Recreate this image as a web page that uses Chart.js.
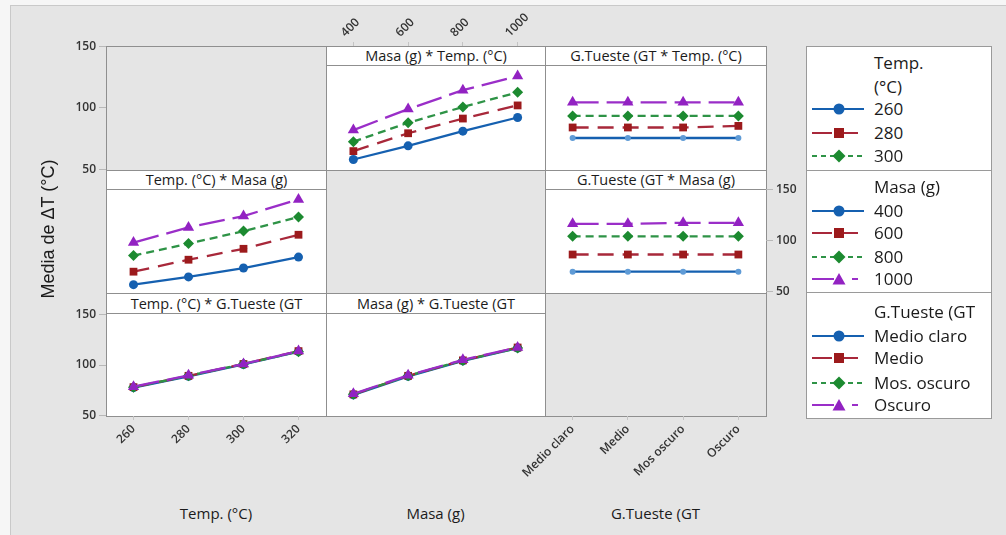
<!DOCTYPE html>
<html><head><meta charset="utf-8">
<script src="https://cdn.jsdelivr.net/npm/chart.js@4.4.1/dist/chart.umd.min.js"></script>
<style>
html,body{margin:0;padding:0}
body{width:1006px;height:535px;position:relative;overflow:hidden;background:#f6f6f6;font-family:"Open Sans","Noto Sans",sans-serif;color:#1b1b1b}
#bg{position:absolute;left:10px;top:5px;right:0;bottom:0;background:#e5e5e5;border-left:1px solid #c9c9c9;border-top:1px solid #c9c9c9}
.pnl{position:absolute;box-sizing:border-box;border:1px solid #8f8f8f;z-index:1}
.strip{position:absolute;box-sizing:border-box;border:1px solid #8f8f8f;background:#fff;z-index:2;text-align:center;font-size:14.5px;white-space:nowrap}
.leg{position:absolute;box-sizing:border-box;border:1px solid #9a9a9a;background:#fff;z-index:1}
.lt{position:absolute;font-size:17px;line-height:20px;white-space:nowrap;z-index:5}
.axt{position:absolute;font-size:15px;line-height:20px;text-align:center;white-space:nowrap;z-index:5;font-weight:500}
canvas{position:absolute}
</style></head><body>
<div id="bg"></div>
<script>
// ---- categories / tick labels ----
const tempLevels = ['260', '280', '300', '320'];
const masaLevels = ['400', '600', '800', '1000'];
const gtLevels = ['Medio claro', 'Medio', 'Mos oscuro', 'Oscuro'];
const gtLegendLabels = ['Medio claro', 'Medio', 'Mos. oscuro', 'Oscuro'];
const yTicks = [50, 100, 150];

// ---- "Masa (g) * Temp. (°C)" : x = Masa, lines = Temp ----
const mt_260 = [60, 73, 87, 100];
const mt_280 = [68, 85, 99, 111.5];
const mt_300 = [77, 95, 110, 124];
const mt_320 = [88, 108, 126, 139.5];
// ---- "G.Tueste (GT * Temp. (°C)" : x = GT, lines = Temp ----
const gt_260 = [80.5, 80.5, 80.5, 80.5];
const gt_280 = [90.5, 90.5, 90.5, 92];
const gt_300 = [101.5, 101.5, 101.5, 101.5];
const gt_320 = [114.5, 114.5, 114.5, 114.5];
// ---- "Temp. (°C) * Masa (g)" : x = Temp, lines = Masa ----
const tm_400 = [58, 65.5, 74, 84.5];
const tm_600 = [70.5, 82, 92.5, 106];
const tm_800 = [86, 97.5, 109.5, 123];
const tm_1000 = [98.5, 113, 124, 140];
// ---- "G.Tueste (GT * Masa (g)" : x = GT, lines = Masa ----
const gm_400 = [70.5, 70.5, 70.5, 70.5];
const gm_600 = [87, 87, 87, 87];
const gm_800 = [104.5, 104.5, 104.5, 104.5];
const gm_1000 = [116.5, 116.5, 117.5, 117.5];
// ---- "Temp. (°C) * G.Tueste (GT" : x = Temp, lines = GT ----
const tg_medioClaro = [77.5, 88.5, 100, 112.5];
const tg_medio = [78, 89, 100.5, 113];
const tg_mosOscuro = [78, 89, 100.5, 112.5];
const tg_oscuro = [78.5, 89.5, 100.5, 113];
// ---- "Masa (g) * G.Tueste (GT" : x = Masa, lines = GT ----
const mg_medioClaro = [70.5, 88.5, 103.5, 116];
const mg_medio = [71, 89, 104, 116.5];
const mg_mosOscuro = [71, 89, 104, 116];
const mg_oscuro = [71.5, 89.5, 104.5, 116.5];

// ---- styles ----
const STY = [
  {line: '#1560b0', fill: '#1560b0', dash: [], ps: 'circle', r: 4.5},
  {line: '#a8283a', fill: '#9c1a1c', dash: [16, 9], ps: 'rect', r: 5.5},
  {line: '#2e9346', fill: '#1c8a30', dash: [8, 5], ps: 'rectRot', r: 5.5},
  {line: '#9a2ec8', fill: '#9222c2', dash: [26, 8], ps: 'triangle', r: 6.5}
];
const FONT = '"Open Sans","Noto Sans",sans-serif';

const colL = [106, 326, 545], colR = [326, 545, 766];
const rowT = [46, 170, 293], rowB = [170, 293, 416], stripB = [65, 189, 313];

function el(tag, cls, css, html) {
  const e = document.createElement(tag);
  if (cls) e.className = cls;
  e.style.cssText = css;
  if (html !== undefined) e.textContent = html;
  document.body.appendChild(e);
  return e;
}
function mkCanvas(x, y, w, h, z) {
  const c = document.createElement('canvas');
  c.width = w; c.height = h;
  c.style.cssText = `left:${x}px;top:${y}px;width:${w}px;height:${h}px;z-index:${z}`;
  document.body.appendChild(c);
  return c.getContext('2d');
}
const baseOpts = () => ({
  responsive: false, animation: false, devicePixelRatio: 1,
  plugins: {legend: {display: false}, tooltip: {enabled: false}, title: {display: false}}
});

function panelBox(r, c, title) {
  const x = colL[c], y = rowT[r], w = colR[c] - colL[c] + 1, h = rowB[r] - rowT[r] + 1;
  el('div', 'pnl', `left:${x}px;top:${y}px;width:${w}px;height:${h}px;background:${title ? '#fff' : 'transparent'}`);
  if (title) {
    const sh = stripB[r] - rowT[r] + 1;
    el('div', 'strip', `left:${x}px;top:${y}px;width:${w}px;height:${sh}px;line-height:${sh - 2}px`, title);
  }
}

function panelChart(r, c, labels, series, blueOverride) {
  const x = colL[c], y = stripB[r], w = colR[c] - colL[c], h = rowB[r] - stripB[r];
  const ctx = mkCanvas(x, y, w, h, 3);
  const n = series.length;
  const o = baseOpts();
  o.layout = {autoPadding: false, padding: 0};
  o.scales = {
    x: {type: 'category', offset: true, display: false},
    y: {type: 'linear', min: 50, max: 150, display: false}
  };
  new Chart(ctx, {
    type: 'line',
    data: {
      labels: labels,
      datasets: series.map((d, i) => {
        const s = STY[i];
        let pc = s.fill, pr = s.r;
        if (i === 0 && blueOverride) { pc = '#5f9bd6'; pr = 3; }
        return {
          data: d, order: n - 1 - i, borderColor: s.line, backgroundColor: pc,
          pointBackgroundColor: pc, pointBorderColor: pc, pointBorderWidth: 0,
          borderWidth: 2.3, borderDash: s.dash, pointStyle: s.ps, pointRadius: pr,
          tension: 0, fill: false, clip: false
        };
      })
    },
    options: o
  });
}

function yAxis(cx, cy, cw, ch, pad, pos, axisW) {
  const ctx = mkCanvas(cx, cy, cw, ch, 4);
  const o = baseOpts();
  o.layout = {autoPadding: false, padding: pad};
  o.scales = {
    x: {display: false},
    y: {
      position: pos, min: 50, max: 150,
      afterBuildTicks: s => { s.ticks = yTicks.map(v => ({value: v})); },
      afterFit: s => { s.width = axisW; },
      grid: {display: true, drawOnChartArea: false, drawTicks: true, tickLength: 7, color: '#b8b8b8'},
      border: {display: false},
      ticks: {font: {family: FONT, size: 12, weight: '600'}, color: '#333', padding: 3}
    }
  };
  new Chart(ctx, {type: 'line', data: {labels: ['a'], datasets: []}, options: o});
}

function xAxis(cx, cy, cw, ch, pad, pos, axisH, labels) {
  const ctx = mkCanvas(cx, cy, cw, ch, 4);
  const o = baseOpts();
  o.layout = {autoPadding: false, padding: pad};
  o.scales = {
    y: {display: false, min: 50, max: 150},
    x: {
      type: 'category', position: pos, offset: true,
      afterFit: s => { s.height = axisH; },
      grid: {display: true, drawOnChartArea: false, drawTicks: true, tickLength: 4, color: '#c4c4c4'},
      border: {display: false},
      ticks: {font: {family: FONT, size: 12, weight: '600'}, color: '#333', padding: 2, minRotation: 45, maxRotation: 45, autoSkip: false}
    }
  };
  new Chart(ctx, {type: 'line', data: {labels: labels, datasets: []}, options: o});
}

// ---- panel frames ----
panelBox(0, 0, null);
panelBox(0, 1, 'Masa (g) * Temp. (°C)');
panelBox(0, 2, 'G.Tueste (GT * Temp. (°C)');
panelBox(1, 0, 'Temp. (°C) * Masa (g)');
panelBox(1, 1, null);
panelBox(1, 2, 'G.Tueste (GT * Masa (g)');
panelBox(2, 0, 'Temp. (°C) * G.Tueste (GT');
panelBox(2, 1, 'Masa (g) * G.Tueste (GT');
panelBox(2, 2, null);

// ---- data panels ----
panelChart(0, 1, masaLevels, [mt_260, mt_280, mt_300, mt_320]);
panelChart(0, 2, gtLevels, [gt_260, gt_280, gt_300, gt_320], true);
panelChart(1, 0, tempLevels, [tm_400, tm_600, tm_800, tm_1000]);
panelChart(1, 2, gtLevels, [gm_400, gm_600, gm_800, gm_1000], true);
panelChart(2, 0, tempLevels, [tg_medioClaro, tg_medio, tg_mosOscuro, tg_oscuro]);
panelChart(2, 1, masaLevels, [mg_medioClaro, mg_medio, mg_mosOscuro, mg_oscuro]);

// ---- axes ----
yAxis(36, 36, 80, 144, {top: 10, bottom: 10, left: 0, right: 0}, 'left', 70);      // row 1 left
yAxis(36, 304, 80, 122, {top: 10, bottom: 10, left: 0, right: 0}, 'left', 70);     // row 3 left
yAxis(756, 179, 50, 123, {top: 10, bottom: 10, left: 0, right: 0}, 'right', 40);   // row 2 right
xAxis(300, 0, 270, 60, {top: 0, bottom: 0, left: 26, right: 25}, 'top', 46, masaLevels);      // top masa
xAxis(26, 396, 310, 70, {top: 0, bottom: 0, left: 80, right: 10}, 'bottom', 50, tempLevels);  // bottom temp
xAxis(465, 396, 311, 100, {top: 0, bottom: 0, left: 80, right: 10}, 'bottom', 80, gtLevels);  // bottom GT

// ---- axis titles ----
el('div', 'axt', `left:${colL[0]}px;top:503px;width:${colR[0] - colL[0]}px`, 'Temp. (°C)');
el('div', 'axt', `left:${colL[1]}px;top:503px;width:${colR[1] - colL[1]}px`, 'Masa (g)');
el('div', 'axt', `left:${colL[2]}px;top:503px;width:${colR[2] - colL[2]}px`, 'G.Tueste (GT');
el('div', 'axt', `left:-52px;top:218px;width:200px;font-size:18px;line-height:22px;font-family:'Liberation Sans',Arial,sans-serif;font-weight:400;transform:rotate(-90deg)`, 'Media de ΔT (°C)');

// ---- legends ----
const legTop = [46, 170, 292], legBot = [170, 292, 418];
for (let i = 0; i < 3; i++) {
  el('div', 'leg', `left:806px;top:${legTop[i]}px;width:186px;height:${legBot[i] - legTop[i] + 1}px`);
}
const SVGNS = 'http://www.w3.org/2000/svg';
const legDash = ['', '20 6 20 40', '5 4', '22 18 6 40'];
function legSym(i, cy) {
  const s = STY[i];
  const svg = document.createElementNS(SVGNS, 'svg');
  svg.setAttribute('width', '58'); svg.setAttribute('height', '16');
  svg.style.cssText = `position:absolute;left:810px;top:${cy - 8}px;z-index:5`;
  const ln = document.createElementNS(SVGNS, 'line');
  ln.setAttribute('x1', '2'); ln.setAttribute('x2', '54'); ln.setAttribute('y1', '8'); ln.setAttribute('y2', '8');
  ln.setAttribute('stroke', s.line); ln.setAttribute('stroke-width', '2');
  if (legDash[i]) ln.setAttribute('stroke-dasharray', legDash[i]);
  svg.appendChild(ln);
  let m;
  if (s.ps === 'circle') {
    m = document.createElementNS(SVGNS, 'circle');
    m.setAttribute('cx', '29'); m.setAttribute('cy', '8'); m.setAttribute('r', '5.5');
  } else if (s.ps === 'rect') {
    m = document.createElementNS(SVGNS, 'rect');
    m.setAttribute('x', '24'); m.setAttribute('y', '3'); m.setAttribute('width', '10'); m.setAttribute('height', '10');
  } else if (s.ps === 'rectRot') {
    m = document.createElementNS(SVGNS, 'polygon');
    m.setAttribute('points', '29,1.5 35.5,8 29,14.5 22.5,8');
  } else {
    m = document.createElementNS(SVGNS, 'polygon');
    m.setAttribute('points', '29,2 35.5,13.5 22.5,13.5');
  }
  m.setAttribute('fill', s.fill);
  svg.appendChild(m);
  document.body.appendChild(svg);
}
function legText(txt, cy) { el('div', 'lt', `left:874px;top:${cy - 10}px`, txt); }

legText('Temp.', 63); legText('(°C)', 87);
[109, 133, 156].forEach((cy, i) => { legSym(i, cy); legText(tempLevels[i], cy); });
legText('Masa (g)', 187);
[211, 233, 257, 279].forEach((cy, i) => { legSym(i, cy); legText(masaLevels[i], cy); });
legText('G.Tueste (GT', 312);
[336, 358, 383, 405].forEach((cy, i) => { legSym(i, cy); legText(gtLegendLabels[i], cy); });
</script>
</body></html>
